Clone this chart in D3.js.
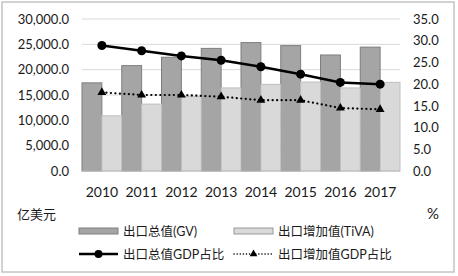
<!DOCTYPE html>
<html lang="zh">
<head>
<meta charset="utf-8">
<script src="https://d3js.org/d3.v7.min.js"></script>
<style>
  body { margin: 0; background: #fff; }
  text { font-family: Lato, "Noto Sans CJK SC", sans-serif; fill: #1a1a1a; }
</style>
</head>
<body>
<div id="chart"></div>
<script>
// data
const years = ["2010", "2011", "2012", "2013", "2014", "2015", "2016", "2017"];
const gv = [17400, 20800, 22450, 24200, 25350, 24750, 22900, 24450];
const tiva = [10900, 13200, 14700, 16400, 17100, 17550, 16400, 17500];
const gvShare = [28.9, 27.7, 26.5, 25.5, 24.0, 22.3, 20.4, 20.0];
const tivaShare = [18.1, 17.5, 17.5, 17.1, 16.3, 16.3, 14.5, 14.2];
const leftTicks = [0, 5000, 10000, 15000, 20000, 25000, 30000];
const rightTicks = [0, 5, 10, 15, 20, 25, 30, 35];

const width = 458, height = 276;
const plot = { left: 82, right: 400, top: 19, bottom: 171 };

const svg = d3.select("#chart").append("svg")
  .attr("width", width)
  .attr("height", height);

// outer frame
svg.append("rect")
  .attr("x", 2).attr("y", 2)
  .attr("width", 452).attr("height", 270)
  .attr("fill", "#fff")
  .attr("stroke", "#c4c4c4")
  .attr("stroke-width", 1.5);

const x = d3.scaleBand().domain(years).range([plot.left, plot.right]).padding(0);
const xIn = d3.scaleBand().domain(["gv", "tiva"]).range([0, x.bandwidth()]);
const yL = d3.scaleLinear().domain([0, 30000]).range([plot.bottom, plot.top]);
const yR = d3.scaleLinear().domain([0, 35]).range([plot.bottom, plot.top]);

// gridlines
svg.append("g").selectAll("line")
  .data(leftTicks.slice(1))
  .join("line")
  .attr("x1", plot.left).attr("x2", plot.right)
  .attr("y1", d => yL(d)).attr("y2", d => yL(d))
  .attr("stroke", "#d9d9d9").attr("stroke-width", 1);

// left axis
const fmtL = d3.format(",.1f");
svg.append("g")
  .attr("transform", `translate(${plot.left},0)`)
  .call(d3.axisLeft(yL).tickValues(leftTicks).tickFormat(fmtL).tickSize(0).tickPadding(13))
  .call(g => g.select(".domain").remove())
  .selectAll("text").style("font-size", "13px").attr("fill", "#1a1a1a");

// right axis
svg.append("g")
  .attr("transform", `translate(${plot.right},0)`)
  .call(d3.axisRight(yR).tickValues(rightTicks).tickFormat(d3.format(".1f")).tickSize(0).tickPadding(13))
  .call(g => g.select(".domain").remove())
  .selectAll("text").style("font-size", "13px").attr("fill", "#1a1a1a");

// bars
const bars = svg.append("g");
bars.selectAll(".gv")
  .data(gv)
  .join("rect")
  .attr("class", "gv")
  .attr("x", (d, i) => x(years[i]) + xIn("gv"))
  .attr("y", d => yL(d))
  .attr("width", xIn.bandwidth())
  .attr("height", d => yL(0) - yL(d))
  .attr("fill", "#a5a5a5")
  .attr("stroke", "#7f7f7f")
  .attr("stroke-width", 1);
bars.selectAll(".tiva")
  .data(tiva)
  .join("rect")
  .attr("class", "tiva")
  .attr("x", (d, i) => x(years[i]) + xIn("tiva"))
  .attr("y", d => yL(d))
  .attr("width", xIn.bandwidth())
  .attr("height", d => yL(0) - yL(d))
  .attr("fill", "#d9d9d9")
  .attr("stroke", "#bfbfbf")
  .attr("stroke-width", 1);

// baseline
svg.append("line")
  .attr("x1", plot.left).attr("x2", plot.right)
  .attr("y1", yL(0)).attr("y2", yL(0))
  .attr("stroke", "#bfbfbf");

// x labels
svg.append("g")
  .attr("transform", `translate(0,${plot.bottom})`)
  .call(d3.axisBottom(x).tickSize(0).tickPadding(16))
  .call(g => g.select(".domain").remove())
  .selectAll("text").style("font-size", "14px").attr("fill", "#000");

const cx = (d, i) => x(years[i]) + x.bandwidth() / 2;
const line = d3.line().x(cx);

// GV share line
svg.append("path")
  .datum(gvShare)
  .attr("d", line.y(d => yR(d)))
  .attr("fill", "none")
  .attr("stroke", "#000")
  .attr("stroke-width", 2.5);
svg.append("g").selectAll("circle")
  .data(gvShare)
  .join("circle")
  .attr("cx", cx)
  .attr("cy", d => yR(d))
  .attr("r", 4.5)
  .attr("fill", "#000");

// TiVA share dotted line
svg.append("path")
  .datum(tivaShare)
  .attr("d", d3.line().x(cx).y(d => yR(d)))
  .attr("fill", "none")
  .attr("stroke", "#000")
  .attr("stroke-width", 2.2)
  .attr("stroke-linecap", "round")
  .attr("stroke-dasharray", "0.1 4.4");
const tri = d3.symbol().type(d3.symbolTriangle).size(34);
svg.append("g").selectAll("path")
  .data(tivaShare)
  .join("path")
  .attr("d", tri)
  .attr("transform", (d, i) => `translate(${cx(d, i)},${yR(d)})`)
  .attr("fill", "#000");

// units
svg.append("text").attr("x", 17).attr("y", 219).style("font-size", "13px")
  .style("font-family", "'Noto Sans CJK SC', sans-serif").text("亿美元");
svg.append("text").attr("x", 427).attr("y", 219).style("font-size", "15px").text("%");

// legend
const lg = svg.append("g").style("font-size", "12.5px")
  .style("font-family", "'Noto Sans CJK SC', sans-serif");
lg.append("rect").attr("x", 79).attr("y", 228).attr("width", 39).attr("height", 6)
  .attr("fill", "#a5a5a5").attr("stroke", "#7f7f7f");
lg.append("text").attr("x", 123).attr("y", 236).text("出口总值(GV)");
lg.append("rect").attr("x", 234).attr("y", 228).attr("width", 39).attr("height", 6)
  .attr("fill", "#d9d9d9").attr("stroke", "#999");
lg.append("text").attr("x", 278).attr("y", 236).text("出口增加值(TiVA)");

lg.append("line").attr("x1", 79).attr("x2", 118).attr("y1", 254).attr("y2", 254)
  .attr("stroke", "#000").attr("stroke-width", 2.5);
lg.append("circle").attr("cx", 98.5).attr("cy", 254).attr("r", 4).attr("fill", "#000");
lg.append("text").attr("x", 123).attr("y", 259).text("出口总值GDP占比");
lg.append("line").attr("x1", 234).attr("x2", 273).attr("y1", 254).attr("y2", 254)
  .attr("stroke", "#000").attr("stroke-width", 1.5)
  .attr("stroke-linecap", "round").attr("stroke-dasharray", "0.1 3");
lg.append("path").attr("d", d3.symbol().type(d3.symbolTriangle).size(26))
  .attr("transform", "translate(253.5,254)").attr("fill", "#000");
lg.append("text").attr("x", 278).attr("y", 259).text("出口增加值GDP占比");
</script>
</body>
</html>
